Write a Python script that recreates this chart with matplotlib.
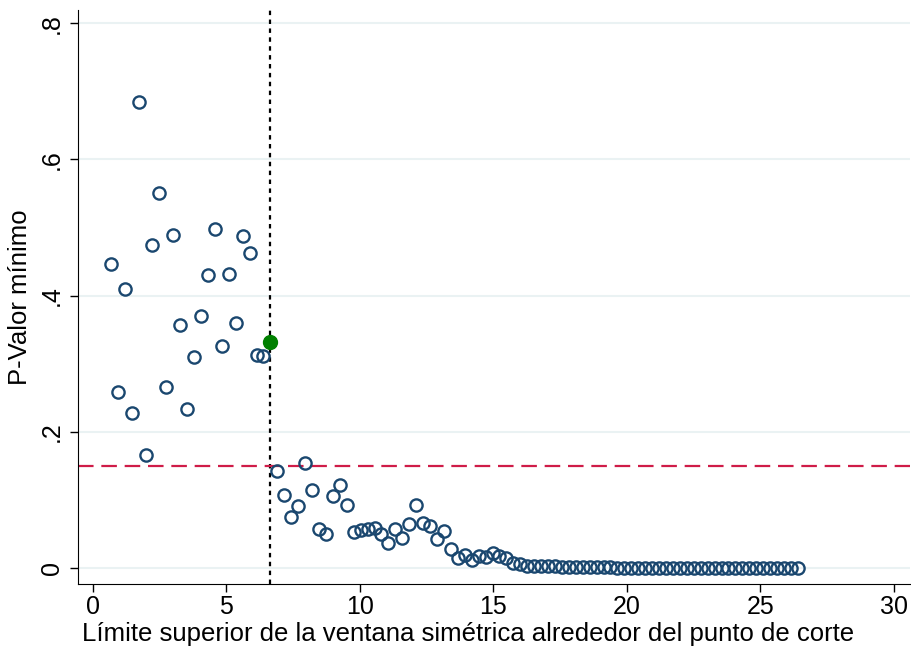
import matplotlib
matplotlib.use("Agg")
import matplotlib.pyplot as plt

# ventana (limite superior) y p-valor minimo
ventana = [0.67, 0.93, 1.19, 1.45, 1.71, 1.97, 2.23, 2.49, 2.75, 3.01,
           3.27, 3.53, 3.79, 4.05, 4.31, 4.57, 4.83, 5.09, 5.35, 5.61,
           5.87, 6.13, 6.39, 6.65, 6.91, 7.17, 7.43, 7.69, 7.95, 8.21,
           8.47, 8.73, 8.99, 9.25, 9.51, 9.77, 10.03, 10.29, 10.55, 10.81,
           11.07, 11.33, 11.59, 11.85, 12.11, 12.37, 12.63, 12.89, 13.15, 13.41,
           13.67, 13.93, 14.19, 14.45, 14.71, 14.97, 15.23, 15.49, 15.75, 16.01,
           16.27, 16.53, 16.79, 17.05, 17.31, 17.57, 17.83, 18.09, 18.35, 18.61,
           18.87, 19.13, 19.39, 19.65, 19.91, 20.17, 20.43, 20.69, 20.95, 21.21,
           21.47, 21.73, 21.99, 22.25, 22.51, 22.77, 23.03, 23.29, 23.55, 23.81,
           24.07, 24.33, 24.59, 24.85, 25.11, 25.37, 25.63, 25.89, 26.15, 26.41]

pvalor = [0.446, 0.258, 0.409, 0.227, 0.684, 0.166, 0.474, 0.551, 0.265, 0.489,
          0.357, 0.234, 0.310, 0.370, 0.430, 0.498, 0.326, 0.432, 0.359, 0.488,
          0.462, 0.313, 0.311, 0.332, 0.142, 0.107, 0.075, 0.091, 0.154, 0.115,
          0.057, 0.049, 0.105, 0.121, 0.093, 0.052, 0.056, 0.057, 0.059, 0.049,
          0.037, 0.057, 0.044, 0.065, 0.092, 0.066, 0.062, 0.043, 0.054, 0.027,
          0.015, 0.019, 0.011, 0.018, 0.016, 0.022, 0.018, 0.014, 0.007, 0.006,
          0.003, 0.003, 0.002, 0.002, 0.002, 0.001, 0.001, 0.001, 0.001, 0.001,
          0.001, 0.001, 0.001, 0.0005, 0.0005, 0.0005, 0.0005, 0.0005, 0.0005, 0.0005,
          0.0005, 0.0005, 0.0005, 0.0005, 0.0005, 0.0005, 0.0005, 0.0005, 0.0005, 0.0005,
          0.0005, 0.0005, 0.0005, 0.0005, 0.0005, 0.0005, 0.0005, 0.0005, 0.0005, 0.0005]

elegido = 23          # indice del punto optimo (verde)
umbral = 0.15

x_ticks = [0, 5, 10, 15, 20, 25, 30]
y_ticks = [0, 0.2, 0.4, 0.6, 0.8]
y_labels = ['0', '.2', '.4', '.6', '.8']

plt.rcParams['font.family'] = ['Liberation Sans', 'DejaVu Sans']

fig = plt.figure(figsize=(9.12, 6.48), dpi=100)
ax = fig.add_axes([0.0855, 0.099, 0.912, 0.885])

for yt in y_ticks:
    ax.axhline(yt, color='#eaf2f3', lw=1.5, zorder=0)

xs = [v for i, v in enumerate(ventana) if i != elegido]
ys = [v for i, v in enumerate(pvalor) if i != elegido]
ax.plot(xs, ys, 'o', ms=8.8, mfc='none', mec='#1a476f', mew=1.7, zorder=3)
ax.plot(ventana[elegido], pvalor[elegido], 'o', ms=10, color='#008000', zorder=4)

ax.axvline(ventana[elegido], color='black', lw=1.6, ls=(0, (2, 2)), zorder=2)
ax.axhline(umbral, color='#cf1c48', lw=1.6, ls=(0, (7, 3.5)), zorder=2)

ax.set_xlim(-0.56, 30.6)
ax.set_ylim(-0.0235, 0.819)
ax.set_xticks(x_ticks)
ax.set_yticks(y_ticks)
ax.set_yticklabels(y_labels, rotation=90, va='center')
ax.tick_params(axis='both', labelsize=18, length=6, width=1, direction='out')
ax.tick_params(axis='x', pad=2)
ax.tick_params(axis='y', pad=4)

for s in ['top', 'right']:
    ax.spines[s].set_visible(False)

ax.set_xlabel('Límite superior de la ventana simétrica alrededor del punto de corte', fontsize=18.5)
ax.xaxis.set_label_coords(0.469, -0.067)
ax.set_ylabel('P-Valor mínimo', fontsize=18.5, labelpad=6)

fig.savefig('out.png', dpi=100)
